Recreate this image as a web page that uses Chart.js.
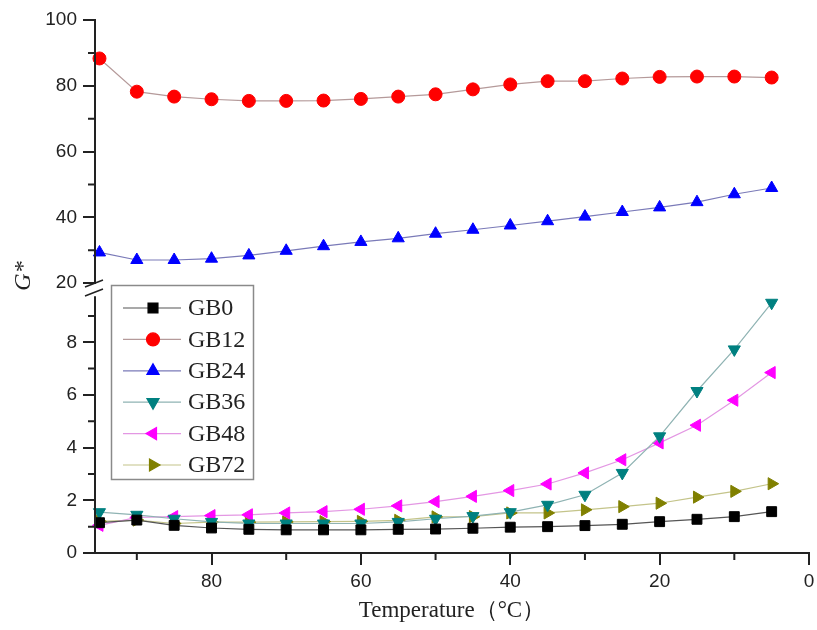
<!DOCTYPE html>
<html>
<head>
<meta charset="utf-8">
<script src="https://cdn.jsdelivr.net/npm/chart.js@4.4.1/dist/chart.umd.min.js"></script>
<style>
  html, body { margin: 0; padding: 0; background: #fff; }
  #wrap { width: 817px; height: 630px; }
</style>
</head>
<body>
<div id="wrap"><canvas id="chart"></canvas></div>
<script>
// temperatures (°C), x axis runs from 95 down to 5
const temps = [95, 90, 85, 80, 75, 70, 65, 60, 55, 50, 45, 40, 35, 30, 25, 20, 15, 10, 5];

// G* values
const gb0  = [1.15, 1.25, 1.05, 0.95, 0.90, 0.88, 0.88, 0.88, 0.90, 0.91, 0.94, 0.98, 1.00, 1.04, 1.09, 1.19, 1.28, 1.38, 1.57];
const gb12 = [88.3, 78.2, 76.7, 75.9, 75.4, 75.4, 75.5, 76.0, 76.7, 77.4, 78.9, 80.4, 81.4, 81.4, 82.2, 82.7, 82.8, 82.8, 82.5];
const gb24 = [29.3, 27.0, 27.0, 27.4, 28.4, 29.8, 31.2, 32.5, 33.6, 35.0, 36.2, 37.5, 38.8, 40.2, 41.6, 43.0, 44.6, 47.0, 48.9];
const gb36 = [1.55, 1.45, 1.30, 1.18, 1.12, 1.12, 1.12, 1.12, 1.18, 1.30, 1.40, 1.55, 1.83, 2.21, 3.04, 4.43, 6.15, 7.73, 9.50];
const gb48 = [1.05, 1.35, 1.38, 1.42, 1.45, 1.52, 1.57, 1.66, 1.79, 1.95, 2.15, 2.37, 2.62, 3.04, 3.54, 4.18, 4.85, 5.80, 6.85];
const gb72 = [1.20, 1.25, 1.12, 1.17, 1.17, 1.18, 1.19, 1.20, 1.24, 1.37, 1.38, 1.52, 1.52, 1.64, 1.76, 1.89, 2.12, 2.34, 2.63];

// ticks
const xTicks = [0, 20, 40, 60, 80];
const xMinor = [10, 30, 50, 70, 90];
const yHighTicks = [20, 40, 60, 80, 100];
const yHighMinor = [30, 50, 70, 90];
const yLowTicks = [0, 2, 4, 6, 8];
const yLowMinor = [1, 3, 5, 7, 9];

const toPts = (vals) => vals.map((v, i) => ({x: temps[i], y: v}));

const series = [
    {label: 'GB0',  data: gb0,  axis: 'yLow',  color: '#000000', line: '#555555', style: 'rect',     rot: 0,   r: 7},
    {label: 'GB12', data: gb12, axis: 'yHigh', color: '#ff0000', line: '#b59a9a', style: 'circle',   rot: 0,   r: 6.5},
    {label: 'GB24', data: gb24, axis: 'yHigh', color: '#0000ff', line: '#7a7ab8', style: 'triangle', rot: 0,   r: 7},
    {label: 'GB36', data: gb36, axis: 'yLow',  color: '#008080', line: '#8fb3b3', style: 'triangle', rot: 180, r: 7},
    {label: 'GB48', data: gb48, axis: 'yLow',  color: '#ff00ff', line: '#e397e3', style: 'triangle', rot: -90, r: 7},
    {label: 'GB72', data: gb72, axis: 'yLow',  color: '#808000', line: '#c4c48a', style: 'triangle', rot: 90,  r: 7},
];

const brokenAxis = {
    id: 'brokenAxis',
    afterDraw(chart) {
        const {ctx, chartArea, scales} = chart;
        const hi = scales.yHigh, lo = scales.yLow, xs = scales.x;
        const x0 = chartArea.left;
        const yb = chartArea.bottom;
        ctx.save();
        ctx.strokeStyle = '#222';
        ctx.lineWidth = 2;
        ctx.beginPath();
        ctx.moveTo(x0, hi.getPixelForValue(100) - 1);
        ctx.lineTo(x0, hi.getPixelForValue(20) + 1);
        ctx.moveTo(x0, lo.getPixelForValue(9.75));
        ctx.lineTo(x0, yb + 1);
        ctx.stroke();

        // break marks
        const yBreak = hi.getPixelForValue(20);
        ctx.lineWidth = 1.5;
        ctx.beginPath();
        ctx.moveTo(x0 - 10, yBreak + 4);
        ctx.lineTo(x0 + 8, yBreak - 3);
        ctx.moveTo(x0 - 10, yBreak + 13);
        ctx.lineTo(x0 + 8, yBreak + 6);
        ctx.stroke();

        // minor ticks
        ctx.lineWidth = 2;
        ctx.beginPath();
        xMinor.forEach(v => {
            const px = xs.getPixelForValue(v);
            ctx.moveTo(px, yb);
            ctx.lineTo(px, yb + 7);
        });
        yHighMinor.forEach(v => {
            const py = hi.getPixelForValue(v);
            ctx.moveTo(x0 - 7, py);
            ctx.lineTo(x0, py);
        });
        yLowMinor.forEach(v => {
            const py = lo.getPixelForValue(v);
            ctx.moveTo(x0 - 7, py);
            ctx.lineTo(x0, py);
        });
        ctx.stroke();

        // legend box
        ctx.strokeStyle = '#8a8a8a';
        ctx.lineWidth = 1.5;
        ctx.strokeRect(111.5, 285.5, 142, 194);
        ctx.font = '24px "Liberation Serif"';
        ctx.textBaseline = 'middle';
        ctx.textAlign = 'left';
        chart.data.datasets.forEach((ds, i) => {
            const ly = 308 + i * 31.4;
            ctx.strokeStyle = ds.borderColor;
            ctx.lineWidth = 1.2;
            ctx.beginPath();
            ctx.moveTo(123, ly);
            ctx.lineTo(181, ly);
            ctx.stroke();
            ctx.fillStyle = ds.pointBackgroundColor;
            ctx.strokeStyle = ds.pointBorderColor;
            Chart.helpers.drawPoint(ctx, {
                pointStyle: ds.pointStyle,
                rotation: ds.pointRotation,
                radius: ds.pointRadius,
                borderWidth: 1
            }, 153, ly);
            ctx.fillStyle = '#222';
            ctx.fillText(ds.label, 188, ly + 1);
        });

        // axis titles
        ctx.fillStyle = '#222';
        ctx.textAlign = 'center';
        ctx.font = '23px "Liberation Serif"';
        ctx.fillText('Temperature\uff08\u00b0C\uff09', 452, 611);
        ctx.translate(24, 276);
        ctx.rotate(-Math.PI / 2);
        ctx.font = 'italic 24px "Liberation Serif"';
        ctx.fillText('G*', 0, 0);
        ctx.restore();
    }
};

const tickFont = {family: '"Liberation Sans", Arial, sans-serif', size: 19};

new Chart(document.getElementById('chart'), {
    type: 'line',
    data: {
        datasets: series.map(s => ({
            label: s.label,
            data: toPts(s.data),
            yAxisID: s.axis,
            borderColor: s.line,
            borderWidth: 1.2,
            pointBackgroundColor: s.color,
            pointBorderColor: s.color,
            pointBorderWidth: 1,
            pointStyle: s.style,
            pointRotation: s.rot,
            pointRadius: s.r,
            tension: 0,
            clip: false
        }))
    },
    options: {
        responsive: true,
        maintainAspectRatio: false,
        animation: false,
        layout: {padding: {top: 20, right: 5, bottom: 0, left: 0}},
        plugins: {legend: {display: false}, tooltip: {enabled: false}},
        scales: {
            x: {
                type: 'linear',
                reverse: true,
                min: 0,
                max: 95.6,
                afterBuildTicks: (s) => { s.ticks = xTicks.map(v => ({value: v})); },
                afterFit: (s) => { s.height = 77; },
                grid: {drawOnChartArea: false, tickLength: 12, color: '#222', lineWidth: 2},
                border: {color: '#222', width: 2},
                ticks: {font: tickFont, color: '#222', padding: 5, maxRotation: 0}
            },
            yLow: {
                type: 'linear',
                position: 'left',
                stack: 'g',
                stackWeight: 263.4,
                min: 0,
                max: 10,
                afterBuildTicks: (s) => { s.ticks = yLowTicks.map(v => ({value: v})); },
                afterFit: (s) => { s.width = 95; },
                grid: {drawOnChartArea: false, tickLength: 12, color: '#222', lineWidth: 2},
                border: {display: false},
                ticks: {font: tickFont, color: '#222', padding: 6}
            },
            yHigh: {
                type: 'linear',
                position: 'left',
                stack: 'g',
                stackWeight: 269.6,
                min: 18,
                max: 100,
                afterBuildTicks: (s) => { s.ticks = yHighTicks.map(v => ({value: v})); },
                afterFit: (s) => { s.width = 95; },
                grid: {drawOnChartArea: false, tickLength: 12, color: '#222', lineWidth: 2},
                border: {display: false},
                ticks: {font: tickFont, color: '#222', padding: 6}
            }
        }
    },
    plugins: [brokenAxis]
});
</script>
</body>
</html>
